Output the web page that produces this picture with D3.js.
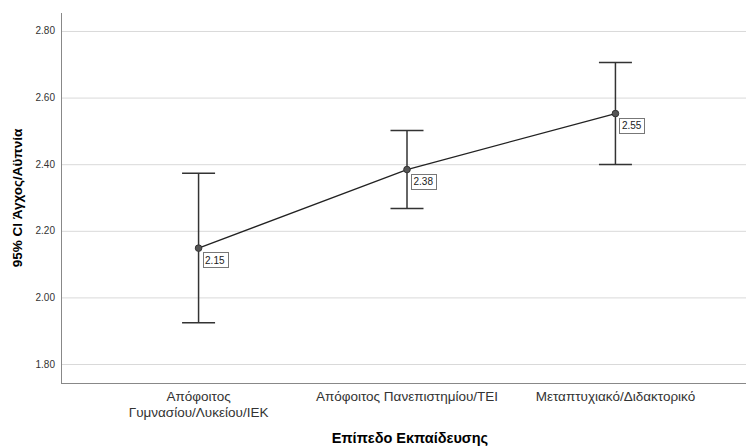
<!DOCTYPE html>
<html lang="el">
<head>
    <meta charset="UTF-8">
    <title>95% CI Άγχος/Αϋπνία</title>
    <script src="https://d3js.org/d3.v7.min.js"></script>
    <style>
        body { margin: 0; background: #fff; }
        svg { display: block; font-family: "Liberation Sans", Arial, sans-serif; }
        .grid line { stroke: #d9d9d9; stroke-width: 1; }
        .grid path { stroke-width: 0; }
        .tick-label { fill: #333; font-size: 10px; }
        .cat-label { fill: #333; font-size: 13.5px; }
        .axis-title { fill: #000; font-weight: bold; }
        .errbar { stroke: #333; stroke-width: 1.5; fill: none; }
        .mean-line { stroke: #222; stroke-width: 1.3; fill: none; }
        .dot { fill: #555; stroke: #333; stroke-width: 1; }
        .val-box { fill: #fff; stroke: #777; stroke-width: 1; }
        .val-text { fill: #222; font-size: 10px; }
    </style>
</head>
<body>
<div id="chart"></div>
<script>
    // data
    const categories = ["Απόφοιτος Γυμνασίου/Λυκείου/ΙΕΚ", "Απόφοιτος Πανεπιστημίου/ΤΕΙ", "Μεταπτυχιακό/Διδακτορικό"];
    const categoryLines = [["Απόφοιτος", "Γυμνασίου/Λυκείου/ΙΕΚ"], ["Απόφοιτος Πανεπιστημίου/ΤΕΙ"], ["Μεταπτυχιακό/Διδακτορικό"]];
    const means = [2.148, 2.384, 2.552];
    const lower = [1.924, 2.267, 2.399];
    const upper = [2.373, 2.501, 2.705];
    const yTicks = [1.80, 2.00, 2.20, 2.40, 2.60, 2.80];

    const W = 746, H = 447;
    const plot = {left: 61, right: 746, top: 13, bottom: 383};

    const svg = d3.select("#chart").append("svg")
        .attr("width", W)
        .attr("height", H);

    const x = d3.scalePoint()
        .domain(categories)
        .range([plot.left, plot.right + 7])
        .padding(0.66);

    const y = d3.scaleLinear()
        .domain([1.743, 2.854])
        .range([plot.bottom, plot.top]);

    // gridlines
    svg.append("g")
        .attr("class", "grid")
        .attr("transform", `translate(${plot.left},0)`)
        .call(d3.axisLeft(y).tickValues(yTicks).tickSize(-(plot.right - plot.left)).tickFormat(""));

    // tick labels
    svg.append("g").selectAll("text")
        .data(yTicks)
        .enter().append("text")
        .attr("class", "tick-label")
        .attr("x", 55)
        .attr("y", d => y(d))
        .attr("dy", "0.35em")
        .attr("text-anchor", "end")
        .text(d => d.toFixed(2));

    // axis lines
    svg.append("line")
        .attr("x1", plot.left + 0.5).attr("x2", plot.left + 0.5)
        .attr("y1", plot.top).attr("y2", plot.bottom)
        .attr("stroke", "#888");
    svg.append("line")
        .attr("x1", plot.left).attr("x2", plot.right)
        .attr("y1", plot.bottom + 0.5).attr("y2", plot.bottom + 0.5)
        .attr("stroke", "#888");

    // category labels
    categories.forEach((c, i) => {
        const t = svg.append("text")
            .attr("class", "cat-label")
            .attr("text-anchor", "middle")
            .attr("x", x(c))
            .attr("y", 401);
        categoryLines[i].forEach((ln, j) => {
            t.append("tspan")
                .attr("x", x(c))
                .attr("dy", j === 0 ? 0 : 15.5)
                .text(ln);
        });
    });

    // axis titles
    svg.append("text")
        .attr("class", "axis-title")
        .attr("font-size", "14.5px")
        .attr("text-anchor", "middle")
        .attr("x", 410)
        .attr("y", 443)
        .text("Επίπεδο Εκπαίδευσης");

    svg.append("text")
        .attr("class", "axis-title")
        .attr("font-size", "13.5px")
        .attr("text-anchor", "middle")
        .attr("transform", `translate(22,${(plot.top + plot.bottom) / 2}) rotate(-90)`)
        .text("95% CI Άγχος/Αϋπνία");

    // error bars
    const cap = 16.5;
    const bars = svg.append("g");
    categories.forEach((c, i) => {
        const cx = x(c);
        bars.append("line").attr("class", "errbar")
            .attr("x1", cx).attr("x2", cx)
            .attr("y1", y(upper[i])).attr("y2", y(lower[i]));
        bars.append("line").attr("class", "errbar")
            .attr("x1", cx - cap).attr("x2", cx + cap)
            .attr("y1", y(upper[i])).attr("y2", y(upper[i]));
        bars.append("line").attr("class", "errbar")
            .attr("x1", cx - cap).attr("x2", cx + cap)
            .attr("y1", y(lower[i])).attr("y2", y(lower[i]));
    });

    // line through the means
    const line = d3.line()
        .x((d, i) => x(categories[i]))
        .y(d => y(d));
    svg.append("path")
        .datum(means)
        .attr("class", "mean-line")
        .attr("d", line);

    svg.append("g").selectAll("circle")
        .data(means)
        .enter().append("circle")
        .attr("class", "dot")
        .attr("cx", (d, i) => x(categories[i]))
        .attr("cy", d => y(d))
        .attr("r", 3.3);

    // value labels
    means.forEach((m, i) => {
        const px = x(categories[i]), py = y(m);
        const g = svg.append("g");
        const box = g.append("rect").attr("class", "val-box");
        const t = g.append("text")
            .attr("class", "val-text")
            .attr("x", px + 6.5)
            .attr("y", py + 15.5)
            .text(m.toFixed(2));
        const bb = t.node().getBBox();
        box.attr("x", Math.round(px + 4) + 0.5)
            .attr("y", Math.round(py + 4) + 0.5)
            .attr("width", Math.round(bb.width + 5))
            .attr("height", 15);
    });
</script>
</body>
</html>
